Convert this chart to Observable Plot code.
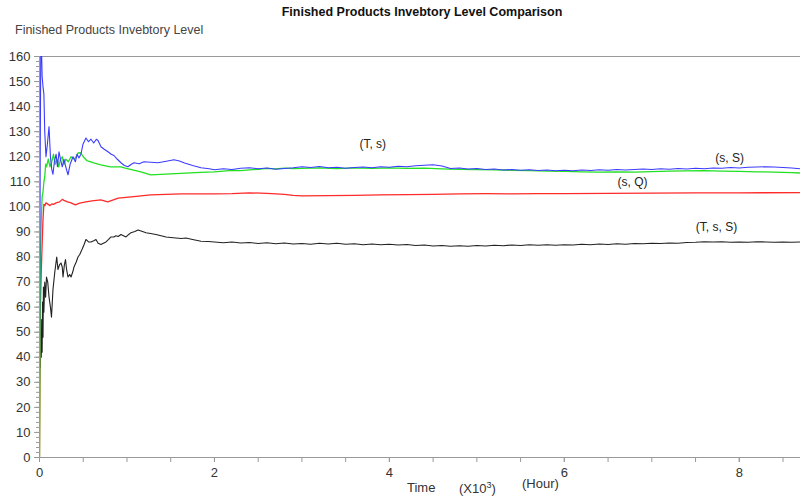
<!DOCTYPE html>
<html>
<head>
<meta charset="utf-8">
<script src="https://cdn.jsdelivr.net/npm/d3@7"></script>
<script src="https://cdn.jsdelivr.net/npm/@observablehq/plot@0.6"></script>
<style>
  body { margin: 0; background: #fff; }
  #wrap { position: relative; width: 800px; height: 497px; font-family: "Liberation Sans", Arial, sans-serif; }
  #wrap svg { position: absolute; left: 0; top: 0; }
  .lbl { position: absolute; white-space: nowrap; color: #333; line-height: 1; }
</style>
</head>
<body>
<div id="wrap">
  <div class="lbl" style="left:0;width:844px;text-align:center;top:6px;font-size:12.5px;font-weight:bold;color:#111;">Finished Products Invebtory Level Comparison</div>
  <div class="lbl" style="left:15px;top:24px;font-size:12.5px;color:#444;">Finished Products Invebtory Level</div>
  <div class="lbl" style="left:407px;top:481px;font-size:13px;">Time</div>
  <div class="lbl" style="left:459px;top:481px;font-size:13px;">(X10<sup style="font-size:9px;vertical-align:5px;">3</sup>)</div>
  <div class="lbl" style="left:522px;top:477px;font-size:13px;">(Hour)</div>
</div>
<script>
// Time in thousands of hours
const blueT = [0,0.008,0.015,0.025,0.03,0.04,0.05,0.06,0.074,0.09,0.109,0.125,0.14,0.154,0.17,0.19,0.205,0.223,0.24,0.26,0.28,0.3,0.326,0.35,0.383,0.41,0.43,0.45,0.474,0.497,0.531,0.56,0.589,0.62,0.65,0.669,0.703,0.74,0.783,0.82,0.851,0.89,0.931,0.97,1.011,1.05,1.08,1.14,1.194,1.27,1.354,1.45,1.537,1.6,1.651,1.75,1.846,1.94,
  2.0,2.1,2.2,2.3,2.4,2.5,2.6,2.7,2.8,2.9,3.0,3.1,3.2,3.3,3.4,3.5,3.6,3.7,3.8,3.9,4.0,4.1,4.2,4.3,4.4,4.5,4.6,4.7,4.8,4.9,5.0,5.1,5.2,5.3,5.4,5.5,5.6,5.7,5.8,5.9,6.0,6.1,6.2,6.3,6.4,6.5,6.6,6.7,6.8,6.9,7.0,7.1,7.2,7.3,7.4,7.5,7.6,7.7,7.8,7.9,8.0,8.1,8.2,8.3,8.4,8.5,8.6,8.7];
const blueV = [30,120,165,160,152,148,145,130,120,125,132,120,115,113,118,121,116,122,119,116,119,116,112.8,117,120,118,121,119.5,121,125,127.5,126,127,125.5,127,126.5,124,123,122,121,120.5,119,117.6,116.5,116,117,117.6,117.2,118,117.8,117.6,118.2,118.8,118.3,117.6,116.5,115.6,115.2,
  114.8,115.2,114.9,115.4,115.6,115.2,115.5,115.0,115.3,115.6,116.0,115.7,116.1,115.6,115.8,115.4,115.7,115.9,115.6,116.0,115.8,116.2,116.0,116.4,116.6,116.8,116.3,115.3,115.5,115.1,115.3,114.9,115.1,114.7,114.9,114.6,114.8,114.5,114.7,114.4,114.6,114.4,114.7,114.5,114.8,114.6,114.9,114.7,114.9,115.1,114.9,115.2,115.0,115.3,115.1,115.4,115.2,115.5,115.4,115.7,115.5,115.8,115.9,116.0,115.9,115.7,115.5,115.2];

const greenT = [0,0.01,0.02,0.03,0.04,0.05,0.06,0.07,0.08,0.1,0.12,0.14,0.16,0.18,0.2,0.22,0.24,0.26,0.28,0.3,0.33,0.36,0.4,0.44,0.47,0.5,0.54,0.62,0.7,0.81,0.93,0.98,1.16,1.27,1.5,1.84,
  2.0,2.1,2.2,2.3,2.4,2.5,2.6,2.7,2.8,2.9,3.0,3.2,3.4,3.6,3.8,4.0,4.2,4.4,4.6,4.8,5.0,5.2,5.4,5.6,5.8,6.0,6.2,6.4,6.6,6.8,7.0,7.2,7.4,7.6,7.8,8.0,8.2,8.4,8.6,8.7];
const greenV = [0,80,95,104,106,110,112,117,116,119,116,118,121,117,119,116,119,120,117,119,118,120,119,121.5,121.6,120,118.5,117.6,116.8,116,116,115.5,114,112.8,113.2,113.8,
  114.0,114.3,114.6,114.5,114.8,115.0,115.4,115.2,115.5,115.3,115.4,115.6,115.3,115.6,115.4,115.6,115.4,115.5,115.2,115.0,114.9,114.8,114.6,114.5,114.3,114.2,114.0,113.9,114.0,113.9,114.1,114.3,114.4,114.5,114.3,114.2,114.0,113.9,113.7,113.5];

const redT = [0,0.01,0.02,0.03,0.04,0.05,0.06,0.074,0.1,0.12,0.14,0.16,0.19,0.23,0.26,0.28,0.32,0.36,0.41,0.46,0.53,0.6,0.7,0.78,0.9,1.05,1.27,1.62,
  2.0,2.2,2.4,2.6,2.8,2.9,3.0,3.3,3.6,3.9,4.2,4.5,4.8,5.1,5.4,5.7,6.0,6.5,7.0,7.5,8.0,8.7];
const redV = [0,60,74,85,95,101,100.5,101.6,101,100.5,101.2,101,101.6,102,103,102.6,102,101.6,100.8,101.5,102,102.4,102.8,102,103.5,104,104.8,105.2,
  105.2,105.3,105.6,105.4,105.0,104.6,104.4,104.5,104.6,104.8,104.9,105.0,105.2,105.3,105.2,105.3,105.3,105.4,105.5,105.6,105.6,105.7];

const blackT = [0,0.005,0.01,0.015,0.02,0.025,0.03,0.035,0.04,0.045,0.05,0.06,0.07,0.08,0.094,0.109,0.125,0.137,0.154,0.175,0.197,0.211,0.23,0.246,0.26,0.269,0.285,0.297,0.31,0.326,0.345,0.36,0.38,0.394,0.42,0.44,0.46,0.486,0.51,0.531,0.56,0.589,0.62,0.646,0.67,0.703,0.73,0.76,0.79,0.817,0.85,0.874,0.9,0.931,0.96,0.989,1.02,1.046,1.09,1.126,1.17,1.217,1.27,1.331,1.39,1.446,1.5,1.56,1.62,1.674,1.75,1.846,1.93,
  2.0,2.1,2.2,2.3,2.4,2.5,2.6,2.7,2.8,2.9,3.0,3.1,3.2,3.3,3.4,3.5,3.6,3.7,3.8,3.9,4.0,4.1,4.2,4.3,4.4,4.5,4.6,4.7,4.8,4.9,5.0,5.1,5.2,5.3,5.4,5.5,5.6,5.7,5.8,5.9,6.0,6.1,6.2,6.3,6.4,6.5,6.6,6.7,6.8,6.9,7.0,7.1,7.2,7.3,7.4,7.5,7.6,7.7,7.8,7.9,8.0,8.1,8.2,8.3,8.4,8.5,8.6,8.7];
const blackV = [38,45,36,50,40,55,42,62,48,68,58,70,64,72,70,64,60,56,67,74,80,75,77,77.6,76,72,77,79,75,72,73,72,74,76,78,80,81,83,85,87,86,86,86.5,87,85.5,85,85.5,86,87,88,88,88.5,88.2,89,88.5,88,89,89.7,90.2,90.8,90.3,89.7,89.4,89,88.5,88,87.8,87.6,87.4,87.6,87,86.3,86.2,
  86.0,85.7,86.0,85.6,85.8,85.4,85.7,85.3,85.6,85.2,85.4,85.1,85.5,85.2,85.5,85.1,85.3,84.9,85.2,84.9,85.1,84.8,85.0,84.6,84.8,84.4,84.6,84.3,84.5,84.3,84.6,84.4,84.7,84.5,84.8,84.6,84.9,84.7,84.9,84.7,84.9,84.8,85.1,84.9,85.2,85.0,85.3,85.1,85.4,85.3,85.5,85.4,85.6,85.5,85.8,85.9,86.1,86.0,86.1,85.9,86.0,85.9,86.1,86.0,85.9,86.0,85.9,86.0];

const seriesLabels = ["(T, s)", "(s, S)", "(s, Q)", "(T, s, S)"];
const labelX = [3.81, 7.89, 6.78, 7.74];
const labelY = [125.1, 119.5, 110, 92];

const xMajorTicks = [0, 2, 4, 6, 8];
const xMinorTicks = d3.range(0, 8.7, 0.5);
const yMajorTicks = d3.range(0, 161, 10);
const yMinorTicks = d3.range(0, 161, 2);

const toRows = (T, V) => T.map((t, i) => ({t, v: V[i]}));
const labels = seriesLabels.map((s, i) => ({s, x: labelX[i], y: labelY[i]}));

const chart = Plot.plot({
  width: 800,
  height: 497,
  marginTop: 56,
  marginBottom: 40,
  marginLeft: 39,
  marginRight: 0,
  style: {fontFamily: '"Liberation Sans", Arial, sans-serif', fontSize: "13px", color: "#333", background: "transparent"},
  x: {domain: [0, 8.7]},
  y: {domain: [0, 160]},
  marks: [
    Plot.ruleY([160], {stroke: "#999"}),
    Plot.axisX({ticks: xMinorTicks, tickSize: 5, tickFormat: () => "", stroke: "#999", label: null}),
    Plot.axisX({ticks: xMajorTicks, tickSize: 5, tickPadding: 5, stroke: "#999", fill: "#333", label: null}),
    Plot.axisY({ticks: yMinorTicks, tickSize: 3, tickFormat: () => "", stroke: "#999", label: null}),
    Plot.axisY({ticks: yMajorTicks, tickSize: 5, tickPadding: 4, stroke: "#999", fill: "#333", label: null}),
    Plot.line(toRows(blackT, blackV), {x: "t", y: "v", stroke: "#222", strokeWidth: 1.1, clip: true}),
    Plot.line(toRows(redT, redV), {x: "t", y: "v", stroke: "#ff2a2a", strokeWidth: 1.3, clip: true}),
    Plot.line(toRows(greenT, greenV), {x: "t", y: "v", stroke: "#22e022", strokeWidth: 1.3, clip: true}),
    Plot.line(toRows(blueT, blueV), {x: "t", y: "v", stroke: "#3b3bff", strokeWidth: 1.1, clip: true}),
    Plot.ruleY([0], {stroke: "#999"}),
    Plot.ruleX([0], {stroke: "#999"}),
    Plot.text(labels, {x: "x", y: "y", text: "s", fontSize: 12, fill: "#222"})
  ]
});
document.getElementById("wrap").prepend(chart);
</script>
</body>
</html>
